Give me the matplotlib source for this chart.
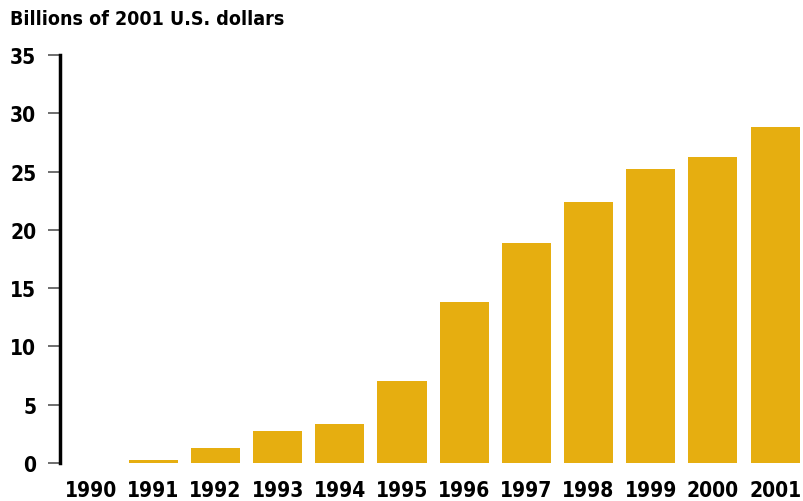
import matplotlib
matplotlib.use("Agg")
import matplotlib.pyplot as plt

# Data
years = ["1990", "1991", "1992", "1993", "1994", "1995",
         "1996", "1997", "1998", "1999", "2000", "2001"]
values = [0.0, 0.3, 1.3, 2.75, 3.35, 7.0, 13.8, 18.9, 22.4, 25.2, 26.3, 28.8]
yticks = [0, 5, 10, 15, 20, 25, 30, 35]

plt.rcParams["font.family"] = "DejaVu Sans"
plt.rcParams["font.weight"] = "bold"
plt.rcParams["font.stretch"] = "condensed"

fig = plt.figure(figsize=(8.04, 5.02), dpi=100)
ax = fig.add_axes([0.0746, 0.0757, 0.9204, 0.8123])

x = range(len(years))
ax.bar(x, values, width=0.79, color="#E6AE10")

ax.set_xlim(-0.5, 11.4)
ax.set_ylim(0, 35)
ax.set_yticks(yticks)
ax.set_yticklabels([str(t) for t in yticks], fontsize=15, fontweight="bold")
ax.set_xticks(list(x))
ax.set_xticklabels(years, fontsize=15, fontweight="bold")

for s in ["top", "right", "bottom"]:
    ax.spines[s].set_visible(False)
ax.spines["left"].set_linewidth(2.5)
ax.tick_params(axis="y", length=9, width=1.2, color="#555555", pad=8)
ax.tick_params(axis="x", length=0, pad=12)

fig.text(0.012, 0.95, "Billions of 2001 U.S. dollars", fontsize=14,
         fontweight="bold", ha="left", va="baseline")

fig.savefig("out.png", dpi=100)
